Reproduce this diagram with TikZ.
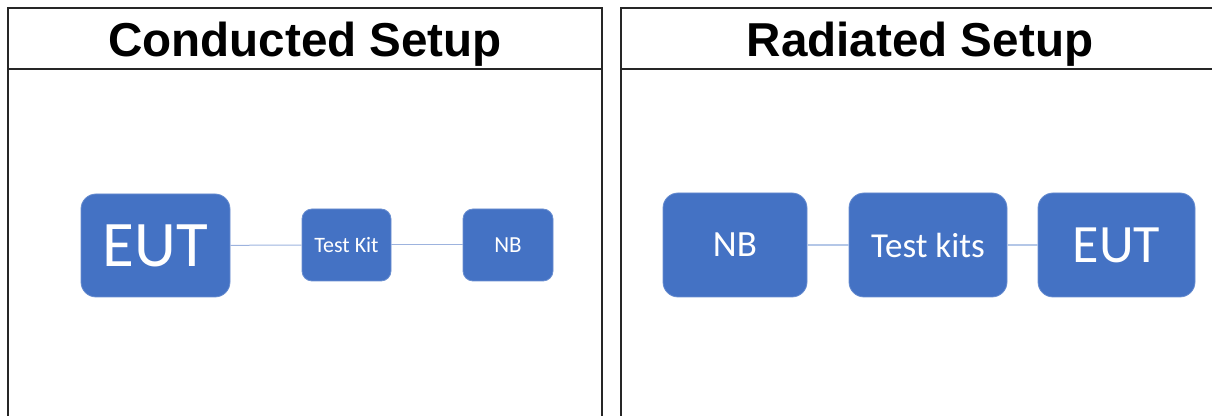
\documentclass[tikz,border=0pt]{standalone}
\usepackage{fontspec}
\setmainfont{Carlito}
\newfontfamily\titlefont{Liberation Sans}
\definecolor{boxblue}{HTML}{4472C4}
\definecolor{wireblue}{HTML}{B4C7E7}
\definecolor{thinwire}{HTML}{9DB3DE}
\tikzset{
  unitbox/.style={fill=boxblue,draw=boxblue!80!white,line width=0.4pt,text=white,inner sep=0pt},
  setuptitle/.style={font=\titlefont\bfseries\fontsize{23.8}{28}\selectfont,anchor=base},
  frame/.style={line width=1pt,draw=black!85},
}
\begin{document}
\begin{tikzpicture}[x=0.5pt,y=-0.5pt]
\useasboundingbox (0,0) rectangle (1212,416);
\clip (0,0) rectangle (1212,416);
\draw[frame] (8,430) -- (8,8) -- (602,8) -- (602,430);
\draw[frame] (8,69) -- (602,69);
\draw[frame] (621,430) -- (621,8) -- (1219,8) -- (1219,430);
\draw[frame] (621,69) -- (1219,69);
\node[setuptitle] (condtitle) at (305,57) {Conducted Setup};
\node[setuptitle] (radtitle) at (920,57) {Radiated Setup};

\node[unitbox,rounded corners=7.5pt,minimum width=74.5pt,minimum height=51.5pt,font=\fontsize{32.5}{36}\selectfont] (eutC) at (155.5,245.5) {EUT};
\node[unitbox,rounded corners=5pt,minimum width=44.5pt,minimum height=36pt,font=\fontsize{11}{14}\selectfont] (kitC) at (346.5,245) {Test Kit};
\node[unitbox,rounded corners=5pt,minimum width=45pt,minimum height=36pt,font=\fontsize{11.5}{14}\selectfont] (nbC) at (508,245) {NB};
\draw[thinwire,line width=0.5pt] (eutC) -- (kitC);
\draw[thinwire,line width=0.5pt] (kitC) -- (nbC);

\node[unitbox,rounded corners=7.5pt,minimum width=72pt,minimum height=52pt,font=\fontsize{18.5}{22}\selectfont] (nbR) at (735,245) {NB};
\node[unitbox,rounded corners=7.5pt,minimum width=79pt,minimum height=52pt,font=\fontsize{17.5}{22}\selectfont] (kitR) at (928,245) {Test kits};
\node[unitbox,rounded corners=7.5pt,minimum width=78.5pt,minimum height=52pt,font=\fontsize{27}{30}\selectfont] (eutR) at (1116.5,245) {EUT};
\draw[wireblue,line width=1pt] (nbR) -- (kitR);
\draw[wireblue,line width=1pt] (kitR) -- (eutR);
\end{tikzpicture}
\end{document}
